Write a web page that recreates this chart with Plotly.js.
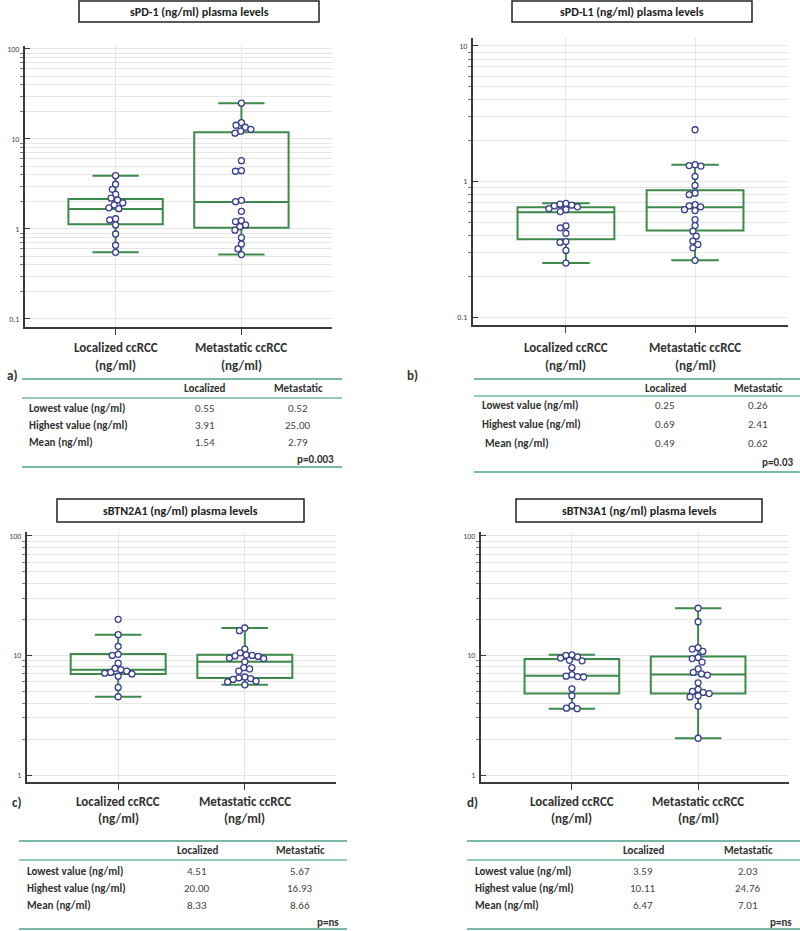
<!DOCTYPE html>
<html>
<head>
<meta charset="utf-8">
<script src="https://cdn.plot.ly/plotly-3.0.1.min.js"></script>
<style>
  html, body { margin: 0; padding: 0; background: #fff; }
  #chart { width: 800px; height: 931px; }
</style>
</head>
<body>
<div id="chart"></div>
<script>
// ---------------- DATA ----------------
const groups = ['Localized ccRCC', 'Metastatic ccRCC'];
const unitLabel = '(ng/ml)';
const panelTitles = ['sPD-1 (ng/ml) plasma levels', 'sPD-L1 (ng/ml) plasma levels',
                     'sBTN2A1 (ng/ml) plasma levels', 'sBTN3A1 (ng/ml) plasma levels'];
const panelLetters = ['a)', 'b)', 'c)', 'd)'];

// individual values
const pd1Localized = [3.91, 3.14, 2.76, 2.43, 2.2, 2.1, 1.95, 1.85, 1.72, 1.68, 1.30, 1.26, 1.11, 0.88, 0.66, 0.55];
const pd1Metastatic = [25.0, 15.2, 14.2, 13.5, 12.8, 12.2, 11.6, 5.74, 4.45, 4.38, 2.08, 2.01, 1.57, 1.24, 1.21, 1.11, 1.06, 0.97, 0.80, 0.68, 0.60, 0.52];
const pdl1Localized = [0.69, 0.68, 0.67, 0.66, 0.65, 0.63, 0.62, 0.60, 0.47, 0.455, 0.415, 0.36, 0.355, 0.31, 0.25];
const pdl1Metastatic = [2.41, 1.33, 1.31, 1.30, 1.09, 0.935, 0.82, 0.80, 0.676, 0.66, 0.65, 0.62, 0.61, 0.524, 0.473, 0.43, 0.395, 0.363, 0.343, 0.324, 0.262];
const btn2Localized = [20.0, 14.9, 11.9, 10.2, 10.0, 8.6, 7.8, 7.6, 7.4, 7.2, 7.1, 7.0, 6.7, 5.4, 4.51];
const btn2Metastatic = [16.93, 16.1, 11.3, 10.5, 10.1, 10.0, 9.9, 9.8, 9.5, 9.4, 8.85, 7.9, 7.7, 7.4, 6.6, 6.5, 6.4, 6.3, 6.1, 6.0, 5.67];
const btn3Localized = [10.11, 10.0, 9.7, 9.5, 9.1, 9.0, 7.9, 6.9, 6.7, 6.65, 6.6, 5.25, 4.6, 3.8, 3.62, 3.59];
const btn3Metastatic = [24.76, 19.1, 11.6, 11.3, 10.8, 9.6, 9.4, 8.8, 7.7, 7.2, 7.0, 6.85, 5.9, 5.2, 5.0, 4.9, 4.8, 4.6, 4.5, 3.76, 2.03];

// box statistics [Localized, Metastatic]
const pd1Q1 = [1.13, 1.03], pd1Median = [1.67, 2.0], pd1Q3 = [2.15, 11.87], pd1Low = [0.55, 0.52], pd1High = [3.91, 25.0];
const pdl1Q1 = [0.375, 0.435], pdl1Median = [0.594, 0.646], pdl1Q3 = [0.646, 0.863], pdl1Low = [0.25, 0.262], pdl1High = [0.69, 1.33];
const btn2Q1 = [7.0, 6.47], btn2Median = [7.59, 8.85], btn2Q3 = [10.27, 10.1], btn2Low = [4.51, 5.67], btn2High = [14.9, 16.93];
const btn3Q1 = [4.81, 4.81], btn3Median = [6.77, 6.93], btn3Q3 = [9.33, 9.8], btn3Low = [3.59, 2.03], btn3High = [10.11, 24.76];

// axis tick labels
const yTicksA = [0.1, 1, 10, 100], yTickTextA = ['0,1', '1', '10', '100'];
const yTicksB = [0.1, 1, 10], yTickTextB = ['0.1', '1', '10'];
const yTicksCD = [1, 10, 100], yTickTextCD = ['1', '10', '100'];

// tables
const tableHeader = ['Localized', 'Metastatic'];
const rowLabels = ['Lowest value (ng/ml)', 'Highest value (ng/ml)', 'Mean (ng/ml)'];
const pd1Table = [['0.55', '0.52'], ['3.91', '25.00'], ['1.54', '2.79']];
const pdl1Table = [['0.25', '0.26'], ['0.69', '2.41'], ['0.49', '0.62']];
const btn2Table = [['4.51', '5.67'], ['20.00', '16.93'], ['8.33', '8.66']];
const btn3Table = [['3.59', '2.03'], ['10.11', '24.76'], ['6.47', '7.01']];
const pValues = ['p=0.003', 'p=0.03', 'p=ns', 'p=ns'];

// ---------------- STYLE / LAYOUT ----------------
const W = 800, H = 931;
const FONT = 'Carlito, Lato, "Liberation Sans", sans-serif';
const GREEN = '#3c8a4c';
const DOT = '#3a3e8c';
const GRID = '#e6e6e6';
const AXIS = '#3a3a3a';
const TEAL = '#79b9aa';
const XR = [-0.72, 1.72];
const px = v => v / W;
const py = v => 1 - v / H;

const panels = [
  { loc: pd1Localized, met: pd1Metastatic, q1: pd1Q1, med: pd1Median, q3: pd1Q3, lo: pd1Low, hi: pd1High,
    xpx: [25, 332], ypx: [46, 327], yr: [-1.089, 2.033], tv: yTicksA, tt: yTickTextA, dec: [-1, 2],
    titleBox: [79, 319, 1, 22], letter: [12, 376], catY: 348, table: pd1Table, rowIndent: [0, 0, 0],
    tb: { x0: 22, x1: 342, top: 379, hdr: 398, bot: 467, hy: 388, lx: 205, mx: 298, rx: 27, ry: [408, 425, 442], ppx: 336, ppy: 459 } },
  { loc: pdl1Localized, met: pdl1Metastatic, q1: pdl1Q1, med: pdl1Median, q3: pdl1Q3, lo: pdl1Low, hi: pdl1High,
    xpx: [473, 788], ypx: [38, 325], yr: [-1.059, 1.059], tv: yTicksB, tt: yTickTextB, dec: [-1, 1],
    titleBox: [512, 752, 1, 22], letter: [412, 376], catY: 348, table: pdl1Table, rowIndent: [0, 0, 3],
    tb: { x0: 474, x1: 800, top: 379, hdr: 396, bot: 472, hy: 388, lx: 665, mx: 758, rx: 480, ry: [405, 424, 443], ppx: 795, ppy: 462 } },
  { loc: btn2Localized, met: btn2Metastatic, q1: btn2Q1, med: btn2Median, q3: btn2Q3, lo: btn2Low, hi: btn2High,
    xpx: [27, 336], ypx: [532, 782], yr: [-0.058, 2.031], tv: yTicksCD, tt: yTickTextCD, dec: [0, 2],
    titleBox: [57, 304, 499, 522], letter: [17, 802], catY: 801, table: btn2Table, rowIndent: [0, 0, 0],
    tb: { x0: 19, x1: 347, top: 841, hdr: 860, bot: 929, hy: 850, lx: 197, mx: 300, rx: 25, ry: [871, 888, 905], ppx: 341, ppy: 922 } },
  { loc: btn3Localized, met: btn3Metastatic, q1: btn3Q1, med: btn3Median, q3: btn3Q3, lo: btn3Low, hi: btn3High,
    xpx: [481, 789], ypx: [532, 782], yr: [-0.058, 2.031], tv: yTicksCD, tt: yTickTextCD, dec: [0, 2],
    titleBox: [516, 762, 499, 522], letter: [472, 802], catY: 801, table: btn3Table, rowIndent: [0, 0, 0],
    tb: { x0: 467, x1: 800, top: 841, hdr: 860, bot: 929, hy: 850, lx: 643, mx: 748, rx: 473, ry: [871, 888, 905], ppx: 794, ppy: 922 } }
];

// beeswarm offsets (pixel space -> data x offsets)
function swarm(values, center, pxPerX, pxPerLog, D) {
  const order = values.map((v, i) => i).sort((a, b) => values[b] - values[a]);
  const placed = [];
  const xs = new Array(values.length);
  order.forEach(i => {
    const y = Math.log10(values[i]) * pxPerLog;
    const cands = [0];
    placed.forEach(p => {
      const dy = Math.abs(y - p.y);
      if (dy < D) { const dx = Math.sqrt(D * D - dy * dy); cands.push(p.x + dx, p.x - dx); }
    });
    const ok = cands.filter(c => placed.every(p => Math.hypot(c - p.x, y - p.y) >= D - 0.01));
    ok.sort((a, b) => Math.abs(a) - Math.abs(b) || a - b);
    const x = ok[0];
    placed.push({ x: x, y: y });
    xs[i] = center + x / pxPerX;
  });
  return xs;
}

const data = [];
const layout = {
  width: W, height: H, margin: { l: 0, r: 0, t: 0, b: 0 },
  paper_bgcolor: '#fff', plot_bgcolor: '#fff', showlegend: false,
  font: { family: FONT, color: '#333' },
  shapes: [], annotations: []
};

panels.forEach((p, k) => {
  const n = k === 0 ? '' : String(k + 1);
  const xa = 'x' + n, ya = 'y' + n;
  const xdom = [px(p.xpx[0]), px(p.xpx[1])];
  const ydom = [py(p.ypx[1]), py(p.ypx[0])];
  const minor = [];
  for (let d = p.dec[0]; d < p.dec[1] + 1; d++) for (let m = 2; m <= 9; m++) {
    const v = m * Math.pow(10, d);
    if (Math.log10(v) < p.yr[1]) minor.push(v);
  }
  layout['xaxis' + n] = {
    domain: xdom, range: XR, anchor: ya, tickvals: [0, 1], showticklabels: false,
    ticks: 'outside', ticklen: 6, tickwidth: 1, tickcolor: AXIS,
    showgrid: true, gridcolor: GRID, gridwidth: 1, zeroline: false,
    showline: true, linecolor: AXIS, linewidth: 2, fixedrange: true
  };
  layout['yaxis' + n] = {
    domain: ydom, type: 'log', range: p.yr, anchor: xa,
    tickvals: p.tv, ticktext: p.tt, ticks: 'inside', ticklen: 5, tickwidth: 1, tickcolor: AXIS,
    tickfont: { size: 8, color: '#444', family: FONT }, ticklabelstandoff: 2,
    showgrid: true, gridcolor: GRID, gridwidth: 1, zeroline: false,
    minor: { tickvals: minor, ticks: 'outside', ticklen: 3, tickcolor: '#777', showgrid: true, gridcolor: GRID, gridwidth: 1 },
    showline: true, linecolor: AXIS, linewidth: 2, fixedrange: true
  };

  data.push({
    type: 'box', x: [0, 1], q1: p.q1, median: p.med, q3: p.q3, lowerfence: p.lo, upperfence: p.hi,
    xaxis: xa, yaxis: ya, boxpoints: false, width: 0.75, whiskerwidth: 0.49,
    line: { color: GREEN, width: 2 }, fillcolor: 'rgba(0,0,0,0)', hoverinfo: 'skip'
  });

  const pxPerX = (p.xpx[1] - p.xpx[0]) / (XR[1] - XR[0]);
  const pxPerLog = (p.ypx[1] - p.ypx[0]) / (p.yr[1] - p.yr[0]);
  [p.loc, p.met].forEach((vals, g) => {
    data.push({
      type: 'scatter', mode: 'markers', xaxis: xa, yaxis: ya,
      x: swarm(vals, g, pxPerX, pxPerLog, 6), y: vals, cliponaxis: false, hoverinfo: 'y',
      marker: { size: 6, color: '#ffffff', line: { color: DOT, width: 1.3 } }
    });
  });

  // title box
  const tbx = p.titleBox;
  layout.shapes.push({ type: 'rect', xref: 'paper', yref: 'paper', x0: px(tbx[0]), x1: px(tbx[1]), y0: py(tbx[3]), y1: py(tbx[2]),
    line: { color: '#222', width: 1.5 }, fillcolor: 'rgba(0,0,0,0)' });
  layout.annotations.push({ xref: 'paper', yref: 'paper', x: px((tbx[0] + tbx[1]) / 2), y: py((tbx[2] + tbx[3]) / 2 + 0.5),
    xanchor: 'center', yanchor: 'middle', showarrow: false, text: '<b>' + panelTitles[k] + '</b>',
    font: { size: 12, color: '#222', family: FONT } });

  // category labels
  groups.forEach((gname, g) => {
    layout.annotations.push({ xref: xa, yref: 'paper', x: g, y: py(p.catY), xanchor: 'center', yanchor: 'middle',
      showarrow: false, text: '<b>' + gname + '</b>', font: { size: 13, color: '#333', family: FONT } });
    layout.annotations.push({ xref: xa, yref: 'paper', x: g, y: py(p.catY + 17), xanchor: 'center', yanchor: 'middle',
      showarrow: false, text: '<b>' + unitLabel + '</b>', font: { size: 13, color: '#333', family: FONT } });
  });
  layout.annotations.push({ xref: 'paper', yref: 'paper', x: px(p.letter[0]), y: py(p.letter[1]), xanchor: 'center', yanchor: 'middle',
    showarrow: false, text: '<b>' + panelLetters[k] + '</b>', font: { size: 13, color: '#333', family: FONT } });

  // table
  const t = p.tb;
  [[t.top, 2], [t.hdr, 1.5], [t.bot, 2]].forEach(([yy, w]) => {
    layout.shapes.push({ type: 'line', xref: 'paper', yref: 'paper', x0: px(t.x0), x1: px(t.x1), y0: py(yy), y1: py(yy),
      line: { color: TEAL, width: w } });
  });
  [t.lx, t.mx].forEach((cx, g) => {
    layout.annotations.push({ xref: 'paper', yref: 'paper', x: px(cx), y: py(t.hy), xanchor: 'center', yanchor: 'middle',
      showarrow: false, text: '<b>' + tableHeader[g] + '</b>', font: { size: 11, color: '#333', family: FONT } });
  });
  rowLabels.forEach((rl, r) => {
    layout.annotations.push({ xref: 'paper', yref: 'paper', x: px(t.rx + p.rowIndent[r]), y: py(t.ry[r]), xanchor: 'left', yanchor: 'middle',
      showarrow: false, text: '<b>' + rl + '</b>', font: { size: 11, color: '#333', family: FONT } });
    [t.lx, t.mx].forEach((cx, g) => {
      layout.annotations.push({ xref: 'paper', yref: 'paper', x: px(cx), y: py(t.ry[r]), xanchor: 'center', yanchor: 'middle',
        showarrow: false, text: p.table[r][g], font: { size: 11, color: '#444', family: FONT } });
    });
  });
  layout.annotations.push({ xref: 'paper', yref: 'paper', x: px(t.ppx), y: py(t.ppy), xanchor: 'right', yanchor: 'middle',
    showarrow: false, text: '<b>' + pValues[k] + '</b>', font: { size: 11, color: '#333', family: FONT } });
});

Plotly.newPlot('chart', data, layout, { staticPlot: true, displayModeBar: false });
</script>
</body>
</html>
